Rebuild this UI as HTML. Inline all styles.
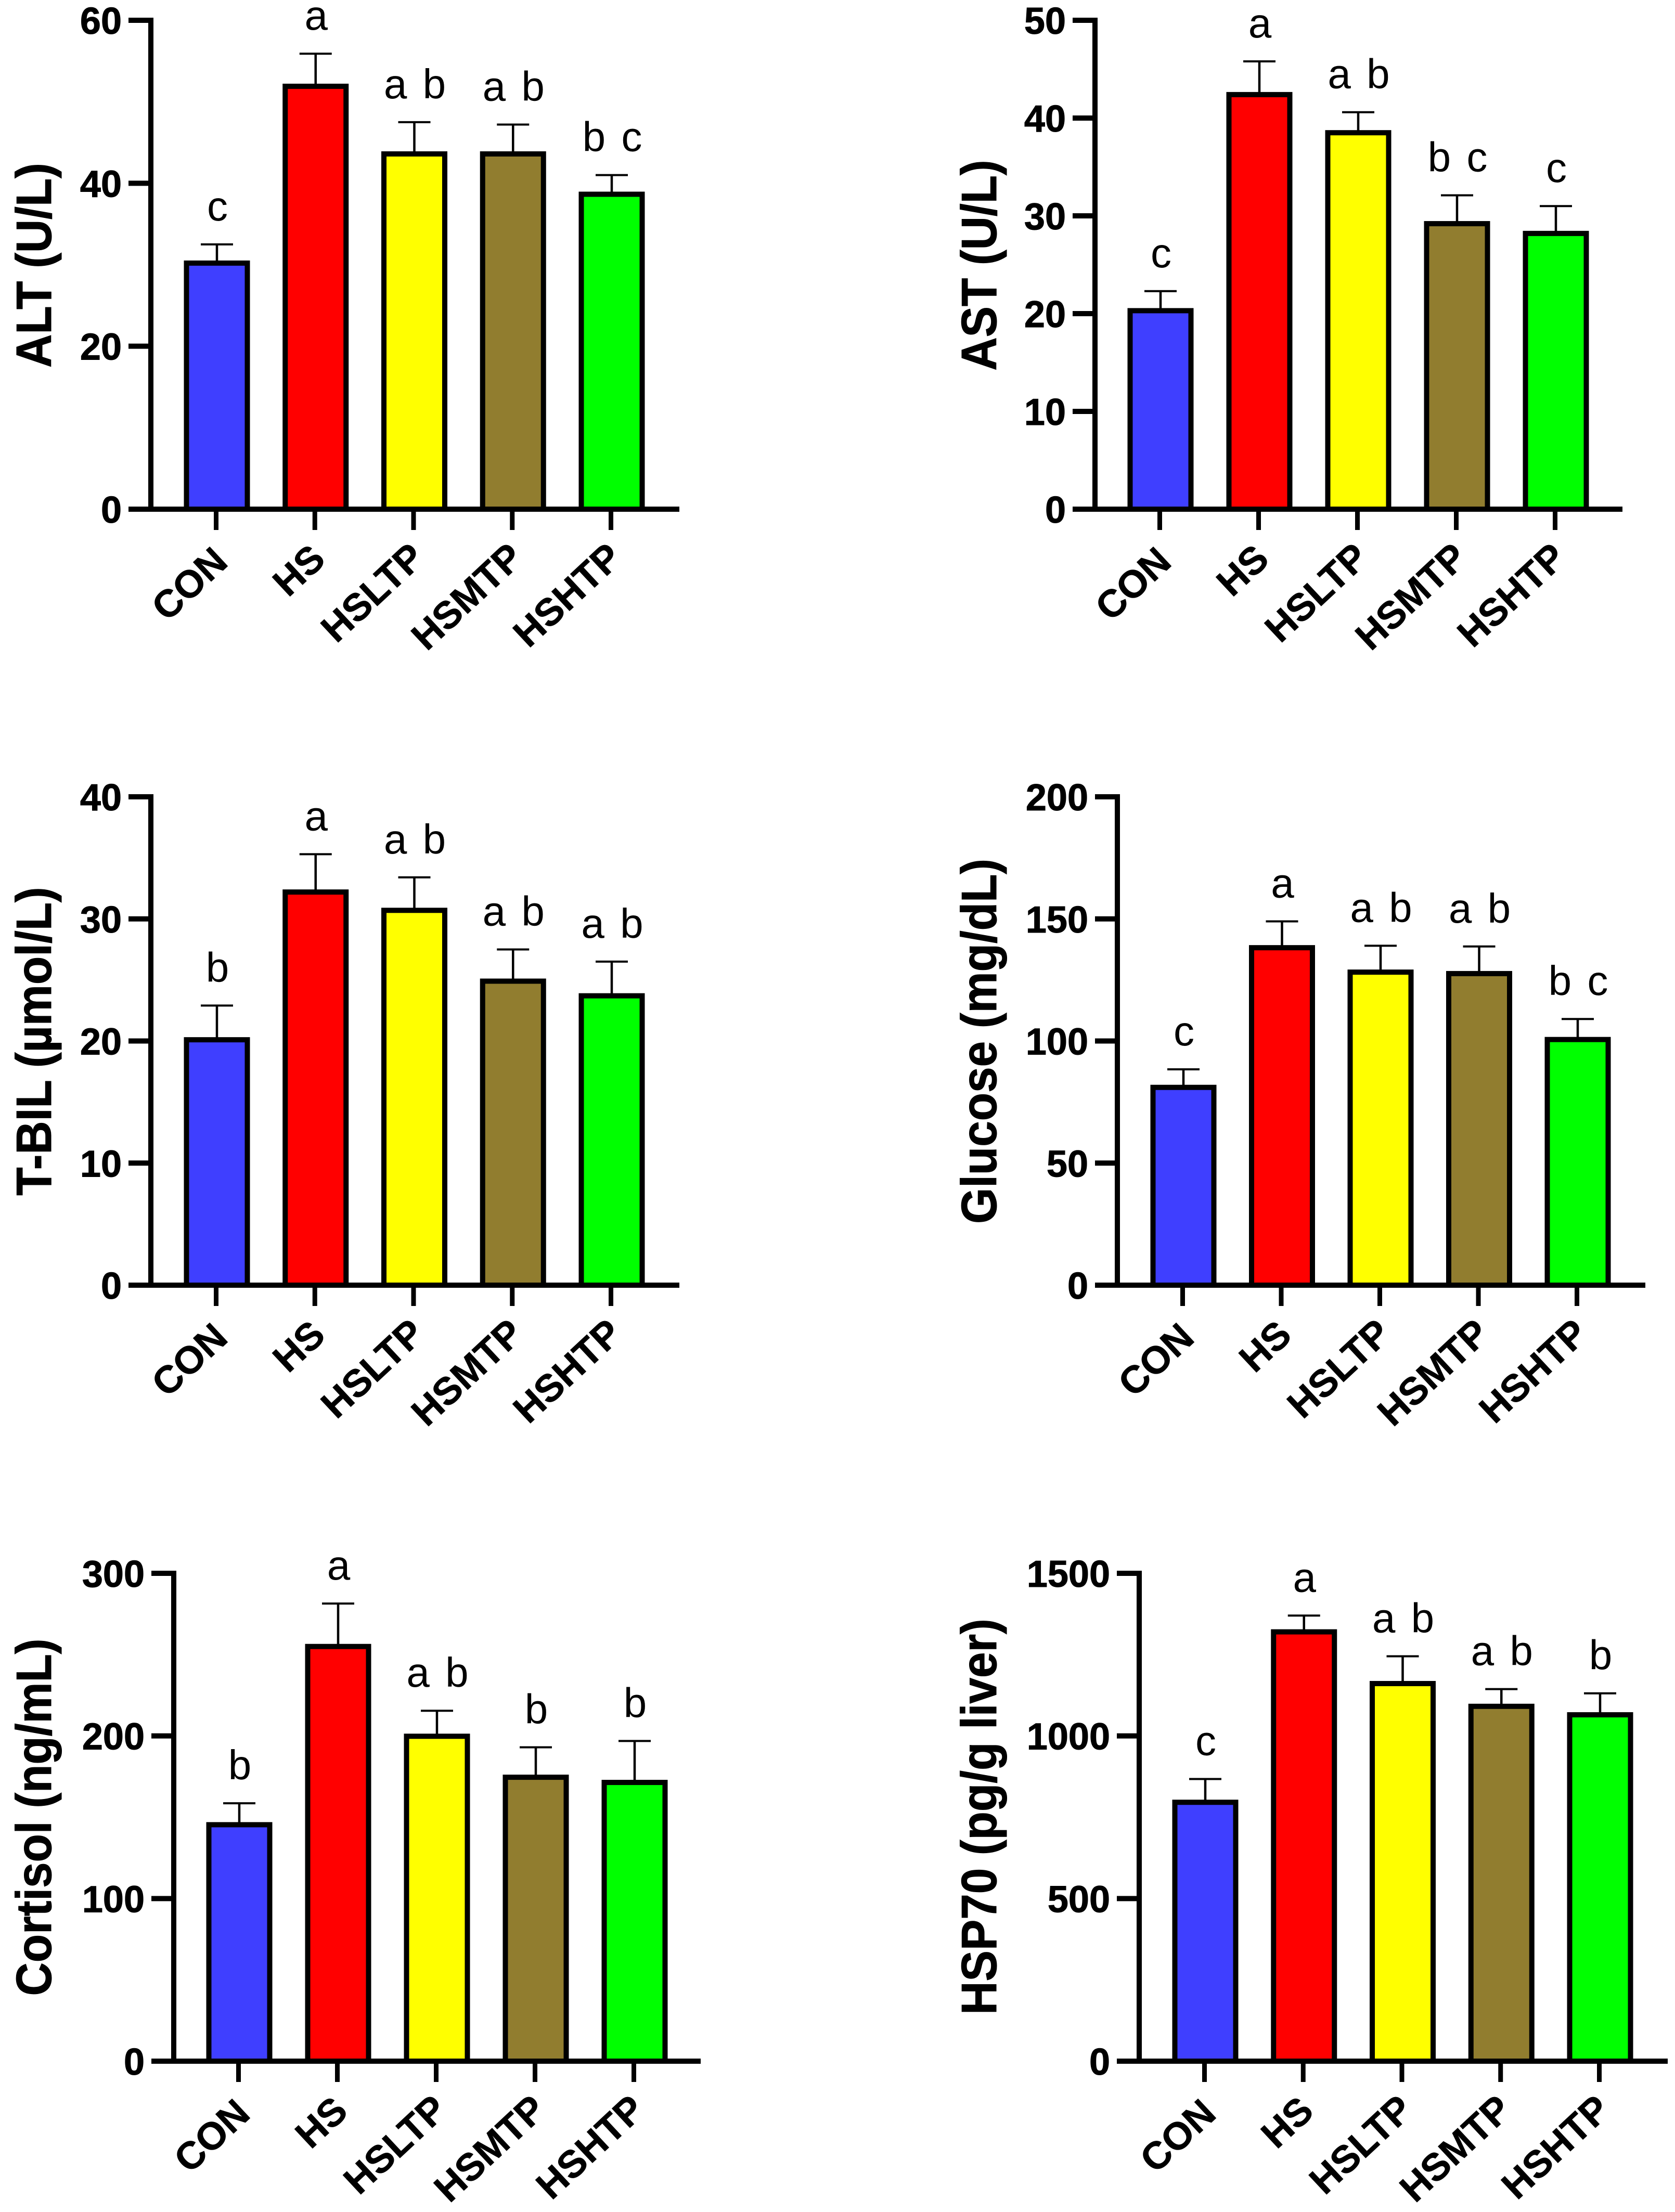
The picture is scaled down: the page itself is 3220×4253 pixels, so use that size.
<!DOCTYPE html>
<html lang="en">
<head>
<meta charset="utf-8">
<title>Serum biomarkers by treatment group</title>
<style>
  html, body { margin: 0; padding: 0; background: #fff; }
  svg { display: block; font-family: "Liberation Sans", Arial, sans-serif; }
</style>
</head>
<body>
<svg id="figure" xmlns="http://www.w3.org/2000/svg" width="3220" height="4253" viewBox="0 0 3220 4253">
  <rect x="0" y="0" width="3220" height="4253" fill="#ffffff"></rect>
</svg>
<script>
// Shared categories
const categories = ['CON', 'HS', 'HSLTP', 'HSMTP', 'HSHTP'];

// ALT
const altTicks = [0, 20, 40, 60];
const altMeans = [30.2, 51.9, 43.6, 43.6, 38.65];
const altUpper = [32.5, 55.9, 47.5, 47.2, 41];
const altLetters = ['c', 'a', 'a b', 'a b', 'b c'];

// AST
const astTicks = [0, 10, 20, 30, 40, 50];
const astMeans = [20.3, 42.4, 38.5, 29.2, 28.2];
const astUpper = [22.3, 45.8, 40.6, 32.1, 31];
const astLetters = ['c', 'a', 'a b', 'b c', 'c'];

// T-BIL
const tbilTicks = [0, 10, 20, 30, 40];
const tbilMeans = [20.1, 32.2, 30.7, 24.9, 23.7];
const tbilUpper = [22.9, 35.3, 33.4, 27.5, 26.5];
const tbilLetters = ['b', 'a', 'a b', 'a b', 'a b'];

// Glucose
const glucoseTicks = [0, 50, 100, 150, 200];
const glucoseMeans = [81, 138.2, 128.2, 127.6, 100.6];
const glucoseUpper = [88.4, 149, 139, 138.7, 109];
const glucoseLetters = ['c', 'a', 'a b', 'a b', 'b c'];

// Cortisol
const cortisolTicks = [0, 100, 200, 300];
const cortisolMeans = [145.4, 255, 199.8, 174.6, 171.4];
const cortisolUpper = [158.6, 281.4, 215.5, 193, 196.9];
const cortisolLetters = ['b', 'a', 'a b', 'b', 'b'];

// HSP70
const hspTicks = [0, 500, 1000, 1500];
const hspMeans = [796, 1320, 1161, 1091, 1065];
const hspUpper = [867.5, 1370, 1245, 1144, 1131];
const hspLetters = ['c', 'a', 'a b', 'a b', 'b'];

const barFills = ['#3f3fff', '#ff0000', '#ffff00', '#917d2f', '#00ff00'];

const panels = [
  { key: 'alt', title: 'ALT (U/L)', ticks: altTicks, means: altMeans, upper: altUpper, letters: altLetters,
    axisX: 290, axisEnd: 1306, top: 39, zero: 979, firstBar: 417, step: 189.75, titleX: 98, titleY: 510 },
  { key: 'ast', title: 'AST (U/L)', ticks: astTicks, means: astMeans, upper: astUpper, letters: astLetters,
    axisX: 2105, axisEnd: 3119, top: 39, zero: 979, firstBar: 2231, step: 190, titleX: 1915, titleY: 510 },
  { key: 't-bil', title: 'T-BIL (\u00B5mol/L)', ticks: tbilTicks, means: tbilMeans, upper: tbilUpper, letters: tbilLetters,
    axisX: 290, axisEnd: 1306, top: 1532, zero: 2471, firstBar: 417, step: 189.75, titleX: 98, titleY: 2002 },
  { key: 'glucose', title: 'Glucose (mg/dL)', ticks: glucoseTicks, means: glucoseMeans, upper: glucoseUpper, letters: glucoseLetters,
    axisX: 2148, axisEnd: 3163, top: 1532, zero: 2471, firstBar: 2275, step: 189.5, titleX: 1915, titleY: 2002 },
  { key: 'cortisol', title: 'Cortisol (ng/mL)', ticks: cortisolTicks, means: cortisolMeans, upper: cortisolUpper, letters: cortisolLetters,
    axisX: 334, axisEnd: 1347, top: 3025, zero: 3963, firstBar: 460, step: 190, titleX: 98, titleY: 3494 },
  { key: 'hsp70', title: 'HSP70 (pg/g liver)', ticks: hspTicks, means: hspMeans, upper: hspUpper, letters: hspLetters,
    axisX: 2190, axisEnd: 3206, top: 3025, zero: 3963, firstBar: 2317, step: 189.75, titleX: 1915, titleY: 3493 }
];

const SVG_NS = 'http://www.w3.org/2000/svg';
const root = document.getElementById('figure');

function make(tag, attrs, parent, content) {
  const node = document.createElementNS(SVG_NS, tag);
  for (const k in attrs) node.setAttribute(k, attrs[k]);
  if (content !== undefined) node.textContent = content;
  parent.appendChild(node);
  return node;
}

// Where each rotated category label ends, measured from its tick foot.
function labelAnchorDx(name) {
  return name.length >= 5 ? 25 : (name === 'HS' ? 24 : 26);
}
function labelAnchorDy(name) {
  return name.length >= 5 ? 98 : (name === 'HS' ? 101 : 106);
}

panels.forEach(function (p) {
  const maxTick = p.ticks[p.ticks.length - 1];
  const yScale = function (v) { return p.zero - (v / maxTick) * (p.zero - p.top); };
  const barX = function (i) { return p.firstBar + i * p.step; };
  const tickX = function (i) { return barX(i) - 1.5; };

  const g = make('g', {}, root);
  
  

  const title = make('text', {
    transform: 'translate(' + p.titleX + ' ' + p.titleY + ') rotate(-90) scale(1 1.07)',
    x: 0, y: 0, 'text-anchor': 'middle',
    'font-size': 89, 'font-weight': 'bold', fill: '#000', stroke: '#000', 'stroke-width': 1
  }, g, p.title);
  
  

  p.means.forEach(function (mean, i) {
    const cx = barX(i);
    const yMean = yScale(mean);
    const yUp = yScale(p.upper[i]);

    const stem = make('line', { x1: cx, x2: cx, y1: yUp, y2: yMean, stroke: '#000', 'stroke-width': 4.5 }, g);
    
    

    const cap = make('line', { x1: cx - 31, x2: cx + 31, y1: yUp, y2: yUp, stroke: '#000', 'stroke-width': 4 }, g);
    
    

    const bar = make('rect', {
      x: cx - 58.5, y: yMean, width: 117, height: p.zero - yMean,
      fill: barFills[i], stroke: '#000', 'stroke-width': 10, 'stroke-linejoin': 'miter'
    }, g);
    
    

    const letter = make('text', {
      x: cx + 1, y: yUp - 46, 'text-anchor': 'middle', 'font-size': 80, 'word-spacing': 8, fill: '#000'
    }, g, p.letters[i]);
    
    

    const xTick = make('line', { x1: tickX(i), x2: tickX(i), y1: p.zero, y2: p.zero + 40, stroke: '#000', 'stroke-width': 9 }, g);
    
    

    const ax = tickX(i) + labelAnchorDx(categories[i]);
    const ay = p.zero + labelAnchorDy(categories[i]);
    const xLabel = make('text', {
      x: ax, y: ay, transform: 'rotate(-43 ' + ax + ' ' + ay + ')',
      'text-anchor': 'end', 'font-size': 74, 'font-weight': 'bold', fill: '#000', stroke: '#000', 'stroke-width': 0.6
    }, g, categories[i]);
    
    
  });

  const yAxis = make('line', { x1: p.axisX, x2: p.axisX, y1: p.top - 5, y2: p.zero, stroke: '#000', 'stroke-width': 10 }, g);
  
  

  const xAxis = make('line', { x1: p.axisX - 43, x2: p.axisEnd, y1: p.zero, y2: p.zero, stroke: '#000', 'stroke-width': 10 }, g);
  
  

  p.ticks.forEach(function (t) {
    const ty = yScale(t);
    const yTick = make('line', { x1: p.axisX - 43, x2: p.axisX, y1: ty, y2: ty, stroke: '#000', 'stroke-width': 10 }, g);
    
    

    const yLabel = make('text', {
      x: p.axisX - 56, y: ty + 26, 'text-anchor': 'end',
      'font-size': 72, 'font-weight': 'bold', fill: '#000', stroke: '#000', 'stroke-width': 1
    }, g, String(t));
    
    
  });
});
</script>
</body>
</html>
